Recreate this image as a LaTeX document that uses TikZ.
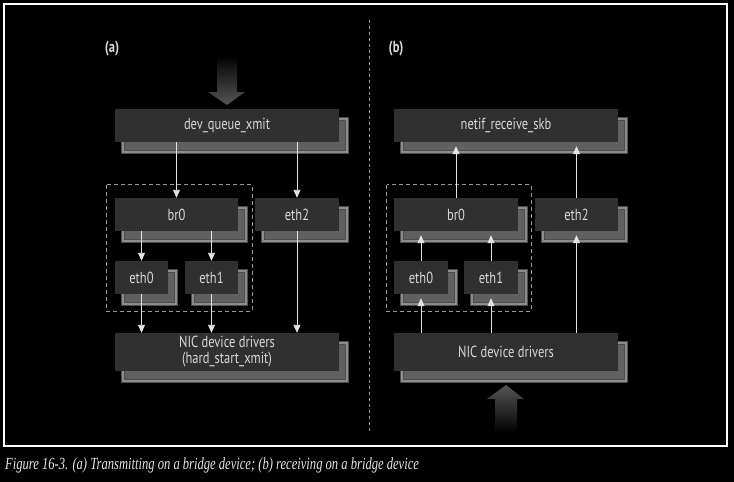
\documentclass[tikz,border=0pt]{standalone}
\usepackage{fontspec}
\setsansfont{PT Sans}[FakeStretch=0.78]
\newfontfamily\capfont{Liberation Serif}[FakeStretch=0.74]
\usepackage{tikz}
\usetikzlibrary{shadows,arrows.meta}
\definecolor{boxfill}{HTML}{2F302F}
\definecolor{boxtext}{HTML}{D8D8D8}
\definecolor{shadefill}{HTML}{606060}
\definecolor{shadeout}{HTML}{4C4C4C}
\definecolor{shadelight}{HTML}{8C8C8C}
\definecolor{linecol}{HTML}{E2E2E2}
\definecolor{dashcol}{HTML}{9A9A9A}
\definecolor{bigarrow}{HTML}{555555}
\definecolor{captext}{HTML}{E6E6E6}

\begin{document}
\begin{tikzpicture}[x=1pt,y=-1pt,
  blk/.style={fill=boxfill, text=boxtext, minimum height=33pt, inner sep=0pt,
    font=\sffamily\fontsize{16}{17}\selectfont,
    general shadow={shadow xshift=8pt, shadow yshift=-10pt, fill=shadefill,
      draw=shadeout, line width=1.5pt, double=shadelight, double distance=1.5pt}},
  link/.style={draw=linecol, line width=0.9pt, -{Triangle[width=7pt,length=8pt]}},
  bridge/.style={draw=dashcol, line width=0.8pt, dash pattern=on 4pt off 3pt},
  tag/.style={text=boxtext, font=\sffamily\bfseries\fontsize{16}{18}\selectfont}]
\fill[black] (0,0) rectangle (734,482);
\useasboundingbox (0,0) rectangle (734,482);
\draw[white, line width=1.3pt] (4,4) rectangle (727,446);
\draw[dashcol, line width=1pt, dash pattern=on 3pt off 3pt] (369,20) -- (369,433);

% (a) transmit
\node[tag] (laba) at (112,49) {(a)};
\shade[top color=black, bottom color=bigarrow] (217,55) -- (237,55) -- (237,92) -- (245,92)
  -- (227,105) -- (208,92) -- (217,92) -- cycle;
\node[blk, minimum width=224pt] (dqa) at (227,125.5) {dev\_queue\_xmit};
\node[blk, minimum width=123pt] (br0a) at (176.5,214.5) {br0};
\node[blk, minimum width=84pt] (eth2a) at (297,214.5) {eth2};
\node[blk, minimum width=53pt] (eth0a) at (141.5,277.5) {eth0};
\node[blk, minimum width=53pt] (eth1a) at (211.5,277.5) {eth1};
\node[blk, minimum width=224pt, minimum height=38pt, align=center, font=\sffamily\fontsize{16}{16}\selectfont]
  (nica) at (227,352) {NIC device drivers\\(hard\_start\_xmit)};
\draw[bridge] ([xshift=-8pt,yshift=13pt]br0a.north west) rectangle ([xshift=14pt,yshift=-17pt]eth1a.south east);
\draw[link] (dqa.south -| br0a) -- (br0a.north);
\draw[link] (dqa.south -| eth2a) -- (eth2a.north);
\draw[link] (br0a.south -| eth0a) -- (eth0a.north);
\draw[link] (br0a.south -| eth1a) -- (eth1a.north);
\draw[link] (eth0a.south) -- (nica.north -| eth0a);
\draw[link] (eth1a.south) -- (nica.north -| eth1a);
\draw[link] (eth2a.south) -- (nica.north -| eth2a);

% (b) receive
\node[tag] (labb) at (396,49) {(b)};
\node[blk, minimum width=224pt] (nrb) at (506,125.5) {netif\_receive\_skb};
\node[blk, minimum width=124pt] (br0b) at (456,214.5) {br0};
\node[blk, minimum width=83pt] (eth2b) at (576.5,214.5) {eth2};
\node[blk, minimum width=54pt] (eth0b) at (421,277.5) {eth0};
\node[blk, minimum width=54pt] (eth1b) at (491,277.5) {eth1};
\node[blk, minimum width=224pt, minimum height=38pt] (nicb) at (506,352) {NIC device drivers};
\draw[bridge] ([xshift=-7pt,yshift=13pt]br0b.north west) rectangle ([xshift=13pt,yshift=-17pt]eth1b.south east);
\shade[top color=bigarrow, bottom color=black] (495,433) -- (517,433) -- (517,399) -- (524,399)
  -- (506,385) -- (487,399) -- (495,399) -- cycle;
\draw[link] (nicb.north -| eth0b) -- ([yshift=-4pt]eth0b.south);
\draw[link] (nicb.north -| eth1b) -- ([yshift=-4pt]eth1b.south);
\draw[link] (nicb.north -| eth2b) -- ([yshift=-4pt]eth2b.south);
\draw[link] (eth0b.north) -- ([yshift=-4pt]br0b.south -| eth0b);
\draw[link] (eth1b.north) -- ([yshift=-4pt]br0b.south -| eth1b);
\draw[link] (br0b.north) -- ([yshift=-4pt]nrb.south -| br0b);
\draw[link] (eth2b.north) -- ([yshift=-4pt]nrb.south -| eth2b);

\node[anchor=base west, inner sep=0pt, text=captext, font=\capfont\itshape\fontsize{17}{19}\selectfont]
  (cap) at (5,469) {Figure 16-3. (a) Transmitting on a bridge device; (b) receiving on a bridge device};
\end{tikzpicture}
\end{document}
